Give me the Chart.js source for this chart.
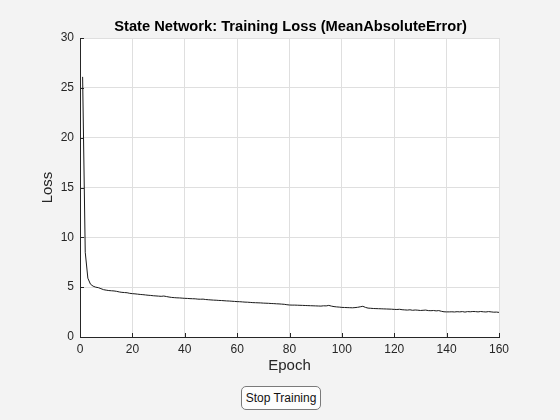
<!DOCTYPE html>
<html>
    <head>
        <title>Training Loss</title>
        <script src="https://cdn.jsdelivr.net/npm/chart.js@4.4.0/dist/chart.umd.min.js"></script>
        <style>
            body {
                margin: 0;
                background: #f3f3f3;
                font-family: 'Liberation Sans', Arial, sans-serif;
            }
            .wrap {
                position: relative;
                width: 560px;
                height: 420px;
            }
            #stopBtn {
                position: absolute;
                left: 241px;
                top: 386px;
                width: 80px;
                height: 24px;
                font-family: 'Liberation Sans', Arial, sans-serif;
                font-size: 12px;
                color: #111;
                background: #fdfdfd;
                border: 1px solid #7a7a7a;
                border-radius: 5px;
                padding: 0;
            }
        </style>
    </head>
    <body>
        <div class="wrap">
            <canvas id="myChart" width="560" height="420"></canvas>
            <button id="stopBtn">Stop Training</button>
        </div>

        <script>
            // loss per epoch
            var epochs = [];
            for (var i = 1; i <= 160; i++) epochs.push(i);
            var lossValues = [
                26.1, 8.5, 5.9, 5.3, 5.1, 5.0, 4.95, 4.85, 4.75, 4.7,
                4.66, 4.64, 4.62, 4.58, 4.52, 4.48, 4.46, 4.44, 4.38, 4.35,
                4.33, 4.30, 4.27, 4.25, 4.22, 4.19, 4.17, 4.14, 4.12, 4.10,
                4.08, 4.11, 4.06, 4.01, 3.97, 3.95, 3.93, 3.92, 3.90, 3.88,
                3.87, 3.85, 3.84, 3.83, 3.80, 3.79, 3.80, 3.76, 3.74, 3.72,
                3.70, 3.69, 3.67, 3.66, 3.64, 3.62, 3.61, 3.59, 3.57, 3.55,
                3.54, 3.52, 3.50, 3.49, 3.47, 3.45, 3.44, 3.43, 3.42, 3.40,
                3.39, 3.38, 3.36, 3.35, 3.33, 3.32, 3.30, 3.28, 3.24, 3.21,
                3.20, 3.20, 3.19, 3.18, 3.17, 3.16, 3.15, 3.14, 3.13, 3.12,
                3.11, 3.10, 3.13, 3.12, 3.17, 3.10, 3.05, 3.02, 3.00, 2.97,
                2.96, 2.95, 2.94, 2.93, 2.95, 2.98, 3.03, 3.08, 2.97, 2.90,
                2.88, 2.86, 2.85, 2.84, 2.83, 2.82, 2.81, 2.80, 2.79, 2.77,
                2.76, 2.78, 2.74, 2.72, 2.70, 2.73, 2.68, 2.71, 2.69, 2.66,
                2.68, 2.70, 2.65, 2.64, 2.66, 2.62, 2.65, 2.58, 2.53, 2.52,
                2.52, 2.53, 2.51, 2.54, 2.52, 2.55, 2.50, 2.55, 2.53, 2.56,
                2.55, 2.52, 2.56, 2.53, 2.51, 2.55, 2.52, 2.49, 2.50, 2.47
            ];
            var xTicks = [0, 20, 40, 60, 80, 100, 120, 140, 160];
            var yTicks = [0, 5, 10, 15, 20, 25, 30];
            var chartTitle = 'State Network: Training Loss (MeanAbsoluteError)';

            var points = epochs.map(function (e, i) { return {x: e, y: lossValues[i]}; });
            var axisColor = '#262626';
            var fontFam = "'Liberation Sans', Arial, sans-serif";

            // white plot box + title + inward tick marks
            var matlabLook = {
                id: 'matlabLook',
                beforeDraw: function (chart) {
                    var c = chart.ctx, a = chart.chartArea;
                    c.save();
                    c.fillStyle = '#ffffff';
                    c.fillRect(a.left, a.top, a.right - a.left, a.bottom - a.top);
                    c.fillStyle = '#000';
                    c.font = 'bold 14.7px ' + fontFam;
                    c.textAlign = 'center';
                    c.textBaseline = 'middle';
                    c.fillText(chartTitle, (a.left + a.right) / 2 + 1, 27);
                    c.restore();
                },
                afterDatasetsDraw: function (chart) {
                    var c = chart.ctx, a = chart.chartArea;
                    var xs = chart.scales.x, ys = chart.scales.y;
                    c.save();
                    c.strokeStyle = axisColor;
                    c.lineWidth = 1;
                    c.beginPath();
                    xTicks.forEach(function (t) {
                        var px = Math.round(xs.getPixelForValue(t)) + 0.5;
                        c.moveTo(px, a.bottom);
                        c.lineTo(px, a.bottom - 4);
                    });
                    yTicks.forEach(function (t) {
                        var py = Math.round(ys.getPixelForValue(t)) + 0.5;
                        c.moveTo(a.left, py);
                        c.lineTo(a.left + 4, py);
                    });
                    c.stroke();
                    c.restore();
                }
            };

            var ctx = document.getElementById('myChart').getContext('2d');
            var chart = new Chart(ctx, {
                type: 'line',
                data: {
                    datasets: [{
                        data: points,
                        borderColor: '#1a1a1a',
                        borderWidth: 1,
                        pointRadius: 0,
                        fill: false,
                        tension: 0
                    }]
                },
                options: {
                    responsive: false,
                    animation: false,
                    layout: {
                        padding: {left: 39, right: 61, top: 38, bottom: 45}
                    },
                    plugins: {
                        legend: {display: false},
                        tooltip: {enabled: false},
                        title: {display: false}
                    },
                    scales: {
                        x: {
                            type: 'linear',
                            min: 0,
                            max: 160,
                            afterFit: function (s) { s.height = 38; },
                            afterBuildTicks: function (s) {
                                s.ticks = xTicks.map(function (v) { return {value: v}; });
                            },
                            ticks: {
                                color: axisColor,
                                font: {family: fontFam, size: 12},
                                padding: 5,
                                maxRotation: 0
                            },
                            grid: {color: '#dfdfdf', drawTicks: false},
                            border: {color: axisColor, width: 1},
                            title: {
                                display: true,
                                text: 'Epoch',
                                color: axisColor,
                                font: {family: fontFam, size: 15},
                                padding: 0
                            }
                        },
                        y: {
                            min: 0,
                            max: 30,
                            afterFit: function (s) { s.width = 41; },
                            afterBuildTicks: function (s) {
                                s.ticks = yTicks.map(function (v) { return {value: v}; });
                            },
                            ticks: {
                                color: axisColor,
                                font: {family: fontFam, size: 12},
                                padding: 6
                            },
                            grid: {color: '#dfdfdf', drawTicks: false},
                            border: {color: axisColor, width: 1},
                            title: {
                                display: true,
                                text: 'Loss',
                                color: axisColor,
                                font: {family: fontFam, size: 15},
                                padding: 0
                            }
                        }
                    }
                },
                plugins: [matlabLook]
            });
        </script>
    </body>
</html>
